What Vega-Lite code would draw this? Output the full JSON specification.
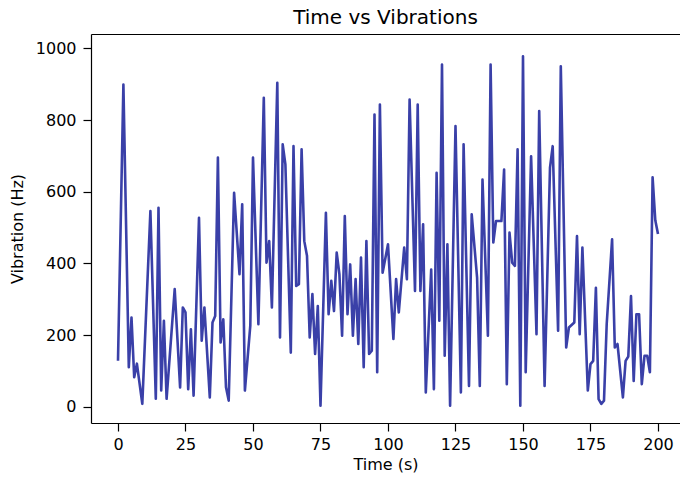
{
  "$schema": "https://vega.github.io/schema/vega-lite/v6.json",
  "width": 589,
  "height": 389,
  "autosize": {"type": "none"},
  "padding": {"left": 91, "top": 34, "right": 0, "bottom": 60},
  "background": "white",
  "title": {"text": "Time vs Vibrations", "fontSize": 20, "font": "DejaVu Sans", "fontWeight": "normal", "color": "black", "offset": 6},
  "config": {
    "view": {"stroke": null},
    "font": "DejaVu Sans",
    "axis": {
      "grid": false,
      "domainColor": "black",
      "domainWidth": 1.2,
      "tickColor": "black",
      "tickWidth": 1.2,
      "tickSize": 8,
      "labelColor": "black",
      "labelFontSize": 16,
      "labelFont": "DejaVu Sans",
      "titleColor": "black",
      "titleFontSize": 16,
      "titleFont": "DejaVu Sans",
      "titleFontWeight": "normal"
    }
  },
  "data": {"values": [
    {"t":0,"v":128},{"t":2,"v":899},{"t":4,"v":110},{"t":5,"v":249},{"t":6,"v":82},{"t":7,"v":120},{"t":9,"v":8},{"t":12,"v":546},{"t":14,"v":22},{"t":15,"v":555},{"t":16,"v":45},{"t":17,"v":240},{"t":18,"v":22},{"t":21,"v":328},{"t":23,"v":54},{"t":24,"v":277},{"t":25,"v":263},{"t":26,"v":49},{"t":27,"v":216},{"t":28,"v":31},{"t":30,"v":527},{"t":31,"v":184},{"t":32,"v":277},{"t":34,"v":26},{"t":35,"v":235},{"t":36,"v":253},{"t":37,"v":695},{"t":38,"v":179},{"t":39,"v":244},{"t":40,"v":54},{"t":41,"v":17},{"t":43,"v":597},{"t":45,"v":370},{"t":46,"v":565},{"t":47,"v":45},{"t":49,"v":226},{"t":50,"v":695},{"t":52,"v":230},{"t":54,"v":862},{"t":55,"v":402},{"t":56,"v":462},{"t":57,"v":277},{"t":59,"v":904},{"t":60,"v":193},{"t":61,"v":732},{"t":62,"v":676},{"t":64,"v":151},{"t":65,"v":727},{"t":66,"v":337},{"t":67,"v":342},{"t":68,"v":718},{"t":69,"v":462},{"t":70,"v":421},{"t":71,"v":193},{"t":72,"v":314},{"t":73,"v":147},{"t":74,"v":281},{"t":75,"v":3},{"t":77,"v":541},{"t":78,"v":258},{"t":79,"v":351},{"t":80,"v":267},{"t":81,"v":430},{"t":82,"v":370},{"t":83,"v":198},{"t":84,"v":532},{"t":85,"v":258},{"t":86,"v":397},{"t":87,"v":198},{"t":88,"v":356},{"t":89,"v":175},{"t":90,"v":416},{"t":91,"v":110},{"t":92,"v":462},{"t":93,"v":147},{"t":94,"v":156},{"t":95,"v":815},{"t":96,"v":96},{"t":97,"v":843},{"t":98,"v":374},{"t":100,"v":453},{"t":102,"v":189},{"t":103,"v":356},{"t":104,"v":263},{"t":106,"v":444},{"t":107,"v":356},{"t":108,"v":857},{"t":110,"v":323},{"t":111,"v":843},{"t":112,"v":323},{"t":113,"v":509},{"t":114,"v":40},{"t":116,"v":383},{"t":117,"v":49},{"t":118,"v":653},{"t":119,"v":240},{"t":120,"v":955},{"t":121,"v":142},{"t":122,"v":453},{"t":123,"v":3},{"t":125,"v":783},{"t":127,"v":40},{"t":128,"v":732},{"t":130,"v":58},{"t":131,"v":537},{"t":133,"v":360},{"t":134,"v":58},{"t":135,"v":634},{"t":137,"v":198},{"t":138,"v":955},{"t":139,"v":458},{"t":140,"v":518},{"t":142,"v":518},{"t":143,"v":662},{"t":144,"v":63},{"t":145,"v":486},{"t":146,"v":402},{"t":147,"v":393},{"t":148,"v":718},{"t":149,"v":3},{"t":150,"v":978},{"t":151,"v":96},{"t":153,"v":699},{"t":155,"v":202},{"t":156,"v":825},{"t":158,"v":58},{"t":160,"v":667},{"t":161,"v":727},{"t":163,"v":212},{"t":164,"v":950},{"t":166,"v":165},{"t":167,"v":221},{"t":169,"v":235},{"t":170,"v":476},{"t":171,"v":202},{"t":172,"v":444},{"t":174,"v":45},{"t":175,"v":119},{"t":176,"v":128},{"t":177,"v":332},{"t":178,"v":21},{"t":179,"v":8},{"t":180,"v":17},{"t":181,"v":230},{"t":183,"v":467},{"t":184,"v":165},{"t":185,"v":175},{"t":187,"v":26},{"t":188,"v":128},{"t":189,"v":140},{"t":190,"v":309},{"t":191,"v":72},{"t":192,"v":258},{"t":193,"v":258},{"t":194,"v":63},{"t":195,"v":142},{"t":196,"v":142},{"t":197,"v":96},{"t":198,"v":640},{"t":199,"v":520},{"t":200,"v":482}
  ]},
  "layer": [
    {
      "mark": {"type": "line", "color": "#3a40a8", "strokeWidth": 2.6, "strokeJoin": "round"},
      "encoding": {
        "x": {"field": "t", "type": "quantitative",
              "scale": {"domain": [-10, 208.15], "nice": false, "zero": false},
              "axis": {"values": [0,25,50,75,100,125,150,175,200], "format": "d", "title": "Time (s)", "labelPadding": 5, "titlePadding": 4, "labelFlush": false}},
        "y": {"field": "v", "type": "quantitative",
              "scale": {"domain": [-45.5, 1040], "nice": false, "zero": false},
              "axis": {"values": [0,200,400,600,800,1000], "format": "d", "title": "Vibration (Hz)", "labelPadding": 7, "titlePadding": 10, "labelFlush": false}}
      }
    },
    {
      "mark": {"type": "line", "strokeOpacity": 0},
      "encoding": {
        "x": {"field": "t", "type": "quantitative",
              "axis": {"orient": "top", "labels": false, "ticks": false, "title": null}}
      }
    }
  ],
  "resolve": {"axis": {"x": "independent"}}
}
